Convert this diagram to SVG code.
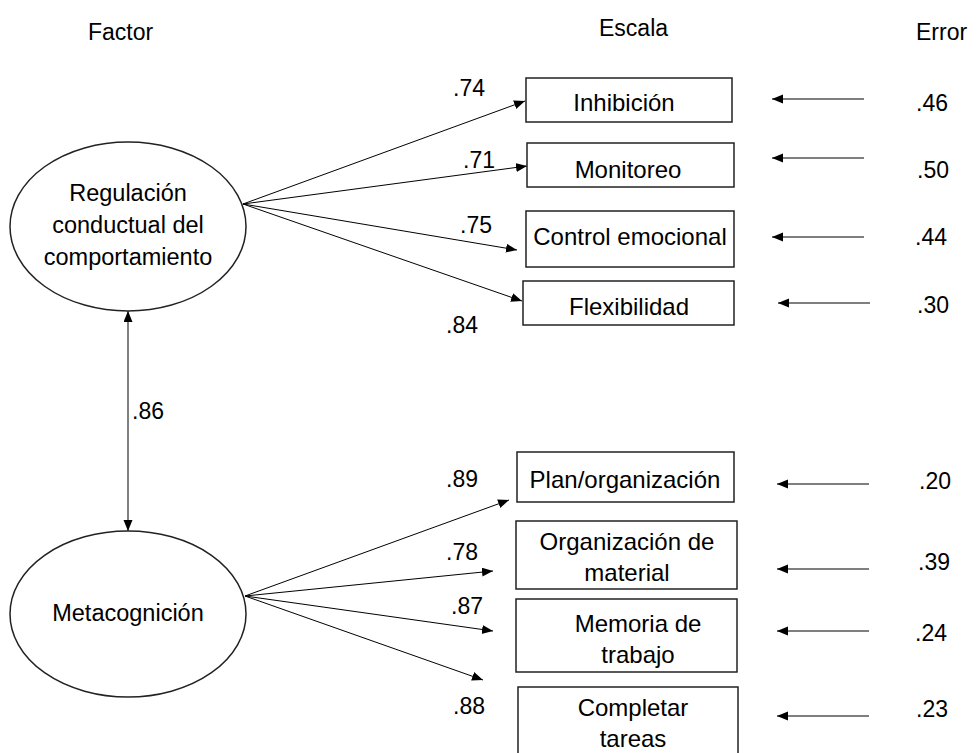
<svg xmlns="http://www.w3.org/2000/svg" width="977" height="753" viewBox="0 0 977 753">
<defs>
<marker id="ah" markerUnits="userSpaceOnUse" markerWidth="12" markerHeight="10" refX="11" refY="4.5" orient="auto-start-reverse">
<path d="M0,0 L11,4.5 L0,9 z" fill="#000"/>
</marker>
<style>
text{font-family:"Liberation Sans",Arial,sans-serif;fill:#000;}
.hd{font-size:23px;}
.lb{font-size:24px;text-anchor:middle;}
.el{font-size:23.5px;text-anchor:middle;}
.nm{font-size:23px;}
.box{fill:#fff;stroke:#222;stroke-width:1.5;}
.ell{fill:#fff;stroke:#222;stroke-width:1.5;}
.ln{stroke:#000;stroke-width:1;fill:none;}
.er{stroke:#555;stroke-width:1.3;fill:none;}
</style>
</defs>
<rect width="977" height="753" fill="#fff"/>
<g id="headers">
<text class="hd" x="88" y="40">Factor</text>
<text class="hd" x="599" y="36">Escala</text>
<text class="hd" x="916" y="40">Error</text>
</g>
<g id="connectors">
<line class="ln" x1="243" y1="204" x2="525" y2="101" marker-end="url(#ah)"/>
<line class="ln" x1="243" y1="204" x2="527" y2="166" marker-end="url(#ah)"/>
<line class="ln" x1="243" y1="204" x2="517" y2="250" marker-end="url(#ah)"/>
<line class="ln" x1="243" y1="204" x2="522" y2="301" marker-end="url(#ah)"/>
<line class="ln" x1="245" y1="596" x2="509" y2="500" marker-end="url(#ah)"/>
<line class="ln" x1="245" y1="596" x2="493" y2="571" marker-end="url(#ah)"/>
<line class="ln" x1="245" y1="596" x2="493" y2="631" marker-end="url(#ah)"/>
<line class="ln" x1="245" y1="596" x2="483" y2="680" marker-end="url(#ah)"/>
<line class="ln" x1="128" y1="311" x2="128" y2="531" marker-start="url(#ah)" marker-end="url(#ah)"/>
<line class="er" x1="864" y1="99" x2="772" y2="99" marker-end="url(#ah)"/>
<line class="er" x1="864" y1="158" x2="772" y2="158" marker-end="url(#ah)"/>
<line class="er" x1="864" y1="237" x2="772" y2="237" marker-end="url(#ah)"/>
<line class="er" x1="870" y1="303" x2="778" y2="303" marker-end="url(#ah)"/>
<line class="er" x1="869" y1="484" x2="777" y2="484" marker-end="url(#ah)"/>
<line class="er" x1="869" y1="569" x2="777" y2="569" marker-end="url(#ah)"/>
<line class="er" x1="869" y1="631" x2="777" y2="631" marker-end="url(#ah)"/>
<line class="er" x1="869" y1="716" x2="777" y2="716" marker-end="url(#ah)"/>
</g>
<g id="labels">
<text class="nm" x="453" y="96">.74</text>
<text class="nm" x="463" y="168">.71</text>
<text class="nm" x="460" y="233">.75</text>
<text class="nm" x="446" y="333">.84</text>
<text class="nm" x="132" y="419">.86</text>
<text class="nm" x="446" y="487">.89</text>
<text class="nm" x="446" y="560">.78</text>
<text class="nm" x="451" y="614">.87</text>
<text class="nm" x="453" y="714">.88</text>
<text class="nm" x="916" y="111">.46</text>
<text class="nm" x="917" y="178">.50</text>
<text class="nm" x="915" y="245">.44</text>
<text class="nm" x="917" y="313">.30</text>
<text class="nm" x="919" y="489">.20</text>
<text class="nm" x="918" y="570">.39</text>
<text class="nm" x="915" y="641">.24</text>
<text class="nm" x="916" y="717">.23</text>
</g>
<g id="factor-regulacion">
<ellipse class="ell" cx="128" cy="226.5" rx="118" ry="84.5"/>
<text class="el" x="128" y="201">Regulación</text>
<text class="el" x="128" y="233">conductual del</text>
<text class="el" x="128" y="265">comportamiento</text>
</g>
<g id="factor-metacognicion">
<ellipse class="ell" cx="128" cy="614" rx="118" ry="83"/>
<text class="el" x="128" y="621">Metacognición</text>
</g>
<g id="inhibicion">
<rect class="box" x="526" y="78" width="206" height="44"/>
<text class="lb" x="624" y="111">Inhibición</text>
</g>
<g id="monitoreo">
<rect class="box" x="527" y="143" width="207" height="44"/>
<text class="lb" x="628" y="178">Monitoreo</text>
</g>
<g id="control-emocional">
<rect class="box" x="526" y="211" width="208" height="56"/>
<text class="lb" x="630" y="245">Control emocional</text>
</g>
<g id="flexibilidad">
<rect class="box" x="523" y="281" width="211" height="44"/>
<text class="lb" x="629" y="315">Flexibilidad</text>
</g>
<g id="plan-organizacion">
<rect class="box" x="517" y="452" width="217" height="50"/>
<text class="lb" x="625" y="488">Plan/organización</text>
</g>
<g id="organizacion-material">
<rect class="box" x="516" y="521" width="221" height="68"/>
<text class="lb" x="627" y="550">Organización de</text>
<text class="lb" x="627" y="581">material</text>
</g>
<g id="memoria-trabajo">
<rect class="box" x="516" y="599" width="221" height="73"/>
<text class="lb" x="638" y="632">Memoria de</text>
<text class="lb" x="638" y="663">trabajo</text>
</g>
<g id="completar-tareas">
<rect class="box" x="518" y="687" width="220" height="80"/>
<text class="lb" x="633" y="716">Completar</text>
<text class="lb" x="633" y="747">tareas</text>
</g>
</svg>
